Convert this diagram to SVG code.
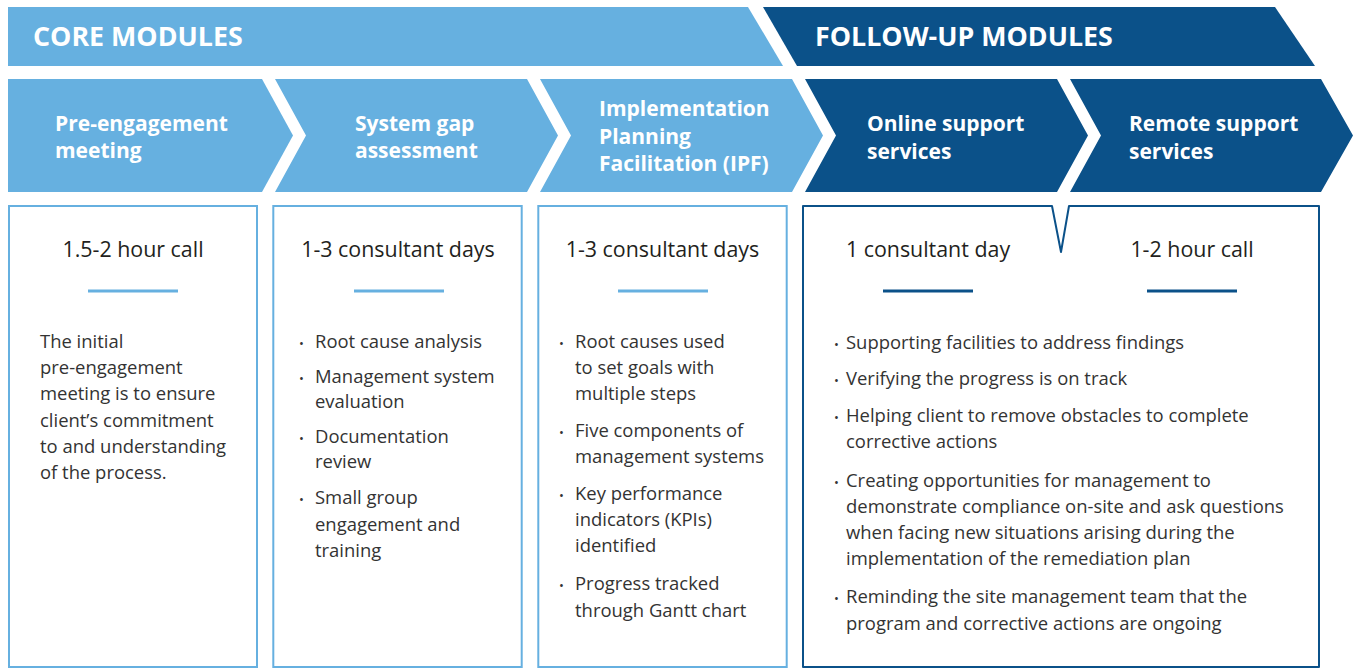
<svg xmlns="http://www.w3.org/2000/svg" width="1357" height="668" viewBox="0 0 1357 668">
<style>
.light{fill:#66b0e0}
.dark{fill:#0b5189}
.band{font-family:"Open Sans","Noto Sans",sans-serif;font-weight:700;font-size:26.8px;fill:#ffffff}
.chev{font-family:"Open Sans","Noto Sans",sans-serif;font-weight:700;font-size:21px;fill:#ffffff}
.boxl{fill:#ffffff;stroke:#66b0e0;stroke-width:2}
.boxd{fill:#ffffff;stroke:#0b5189;stroke-width:2;stroke-linejoin:round}
.head{font-family:"Open Sans","Noto Sans",sans-serif;font-size:21.4px;fill:#231f20;text-anchor:middle}
.body{font-family:"Open Sans","Noto Sans",sans-serif;font-size:18.45px;fill:#333333}
.bul{font-family:"Open Sans","Noto Sans",sans-serif;font-size:13px;fill:#333333}
.ulL{stroke:#66b0e0;stroke-width:3}
.ulD{stroke:#0b5189;stroke-width:3}
</style>
<rect width="1357" height="668" fill="#ffffff"/>
<g id="band-core">
<path class="light" d="M8,7 H748 L783,66 H8 Z"/>
<text class="band" x="33" y="46">CORE MODULES</text>
</g>
<g id="band-followup">
<path class="dark" d="M763,7 H1275 L1315,66 H797 Z"/>
<text class="band" x="815" y="46">FOLLOW-UP MODULES</text>
</g>
<g id="chev-pre">
<path class="light" d="M8,79 H262 L293,135.5 L262,192 H8 Z"/>
<text class="chev" x="55" y="131">Pre-engagement</text>
<text class="chev" x="55" y="158">meeting</text>
</g>
<g id="chev-gap">
<path class="light" d="M275,79 H527 L558,135.5 L527,192 H275 L306,135.5 Z"/>
<text class="chev" x="355" y="131">System gap</text>
<text class="chev" x="355" y="158">assessment</text>
</g>
<g id="chev-ipf">
<path class="light" d="M540,79 H792 L823,135.5 L792,192 H540 L571,135.5 Z"/>
<text class="chev" x="599" y="116">Implementation</text>
<text class="chev" x="599" y="144">Planning</text>
<text class="chev" x="599" y="171">Facilitation (IPF)</text>
</g>
<g id="chev-online">
<path class="dark" d="M805,79 H1057 L1088,135.5 L1057,192 H805 L836,135.5 Z"/>
<text class="chev" x="867" y="131">Online support</text>
<text class="chev" x="867" y="159">services</text>
</g>
<g id="chev-remote">
<path class="dark" d="M1070,79 H1321 L1353,135.5 L1321,192 H1070 L1101,135.5 Z"/>
<text class="chev" x="1129" y="131">Remote support</text>
<text class="chev" x="1129" y="159">services</text>
</g>
<g id="box-pre">
<rect class="boxl" x="9" y="206" width="248" height="461"/>
<text class="head" x="133" y="257">1.5-2 hour call</text>
<line class="ulL" x1="88" y1="291" x2="178" y2="291"/>
<text class="body" x="40" y="347.5">The initial</text>
<text class="body" x="40" y="374">pre-engagement</text>
<text class="body" x="40" y="400">meeting is to ensure</text>
<text class="body" x="40" y="426.5">client’s commitment</text>
<text class="body" x="40" y="453">to and understanding</text>
<text class="body" x="40" y="479">of the process.</text>
</g>
<g id="box-gap">
<rect class="boxl" x="273.3" y="206" width="248.4" height="461"/>
<text class="head" x="398" y="257">1-3 consultant days</text>
<line class="ulL" x1="354" y1="291" x2="444" y2="291"/>
<text class="bul" x="299" y="347.5">•</text>
<text class="body" x="315" y="347.5">Root cause analysis</text>
<text class="bul" x="299" y="382.5">•</text>
<text class="body" x="315" y="382.5">Management system</text>
<text class="body" x="315" y="407.5">evaluation</text>
<text class="bul" x="299" y="442.5">•</text>
<text class="body" x="315" y="442.5">Documentation</text>
<text class="body" x="315" y="468">review</text>
<text class="bul" x="299" y="504">•</text>
<text class="body" x="315" y="504">Small group</text>
<text class="body" x="315" y="530.5">engagement and</text>
<text class="body" x="315" y="557">training</text>
</g>
<g id="box-ipf">
<rect class="boxl" x="538.3" y="206" width="248.4" height="461"/>
<text class="head" x="662.5" y="257">1-3 consultant days</text>
<line class="ulL" x1="618" y1="291" x2="708" y2="291"/>
<text class="bul" x="559" y="347.5">•</text>
<text class="body" x="575" y="347.5">Root causes used</text>
<text class="body" x="575" y="374">to set goals with</text>
<text class="body" x="575" y="400">multiple steps</text>
<text class="bul" x="559" y="436.5">•</text>
<text class="body" x="575" y="436.5">Five components of</text>
<text class="body" x="575" y="462.5">management systems</text>
<text class="bul" x="559" y="500">•</text>
<text class="body" x="575" y="500">Key performance</text>
<text class="body" x="575" y="526">indicators (KPIs)</text>
<text class="body" x="575" y="552">identified</text>
<text class="bul" x="559" y="590">•</text>
<text class="body" x="575" y="590">Progress tracked</text>
<text class="body" x="575" y="616.5">through Gantt chart</text>
</g>
<g id="box-followup">
<path class="boxd" d="M803,206 H1052 L1061,252 L1069,206 H1319 V667 H803 Z"/>
<text class="head" x="928" y="257">1 consultant day</text>
<line class="ulD" x1="883" y1="291" x2="973" y2="291"/>
<text class="head" x="1192" y="257">1-2 hour call</text>
<line class="ulD" x1="1147" y1="291" x2="1237" y2="291"/>
<text class="bul" x="834" y="348.5">•</text>
<text class="body" x="846" y="348.5">Supporting facilities to address findings</text>
<text class="bul" x="834" y="385">•</text>
<text class="body" x="846" y="385">Verifying the progress is on track</text>
<text class="bul" x="834" y="421.5">•</text>
<text class="body" x="846" y="421.5">Helping client to remove obstacles to complete</text>
<text class="body" x="846" y="447.5">corrective actions</text>
<text class="bul" x="834" y="486.5">•</text>
<text class="body" x="846" y="486.5">Creating opportunities for management to</text>
<text class="body" x="846" y="512.5">demonstrate compliance on-site and ask questions</text>
<text class="body" x="846" y="538.5">when facing new situations arising during the</text>
<text class="body" x="846" y="565">implementation of the remediation plan</text>
<text class="bul" x="834" y="603">•</text>
<text class="body" x="846" y="603">Reminding the site management team that the</text>
<text class="body" x="846" y="629.5">program and corrective actions are ongoing</text>
</g>
<g id="connectors"></g>
</svg>
